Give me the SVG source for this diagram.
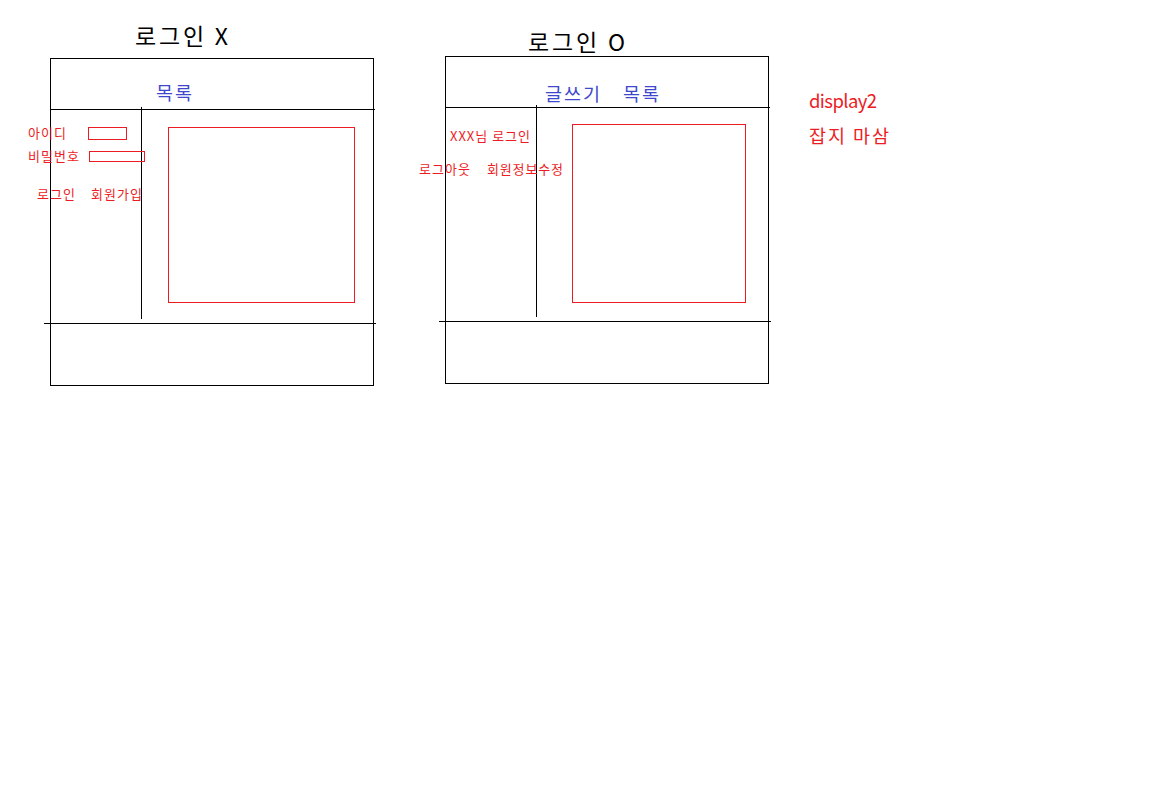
<svg xmlns="http://www.w3.org/2000/svg" width="1152" height="797" viewBox="0 0 1152 797">
<style>
.frame{fill:none;stroke:#000;stroke-width:1}
.ln{stroke:#000;stroke-width:1}
.rbox{fill:none;stroke:#ED1C24;stroke-width:1}
text{font-family:"Malgun Gothic","Noto Sans CJK KR","Noto Sans",sans-serif}
.title{font-size:23px;fill:#000}
.menu{font-size:18.5px;fill:#3F48CC}
.sm{font-size:13px;fill:#ED1C24}
.note{font-size:18.5px;fill:#ED1C24}
</style>
<rect width="1152" height="797" fill="#fff"/>
<g id="logout-view">
  <text class="title" x="135" y="44.5" textLength="93">로그인 X</text>
  <rect class="frame" x="50.5" y="58.5" width="323" height="327"/>
  <line class="ln" x1="50" y1="109.5" x2="375" y2="109.5"/>
  <line class="ln" x1="141.5" y1="107" x2="141.5" y2="319"/>
  <line class="ln" x1="44" y1="323.5" x2="376" y2="323.5"/>
  <text class="menu" x="156" y="99.5" textLength="36">목록</text>
  <rect class="rbox" x="168.5" y="127.5" width="186" height="175"/>
  <text class="sm" x="28" y="138" textLength="38">아이디</text>
  <rect class="rbox" x="88.5" y="127.5" width="38" height="12"/>
  <text class="sm" x="28" y="161" textLength="51">비밀번호</text>
  <rect class="rbox" x="89.5" y="151.5" width="55" height="10"/>
  <text class="sm" x="37" y="199" textLength="38">로그인</text>
  <text class="sm" x="91" y="199" textLength="51">회원가입</text>
</g>
<g id="login-view">
  <text class="title" x="528" y="51" textLength="97">로그인 O</text>
  <rect class="frame" x="445.5" y="56.5" width="323" height="327"/>
  <line class="ln" x1="445" y1="107.5" x2="770" y2="107.5"/>
  <line class="ln" x1="536.5" y1="105" x2="536.5" y2="317"/>
  <line class="ln" x1="439" y1="321.5" x2="771" y2="321.5"/>
  <text class="menu" x="545" y="100.5" textLength="55">글쓰기</text>
  <text class="menu" x="623" y="100.5" textLength="36">목록</text>
  <rect class="rbox" x="572.5" y="124.5" width="173" height="178"/>
  <text class="sm" x="450" y="141" textLength="80">XXX님 로그인</text>
  <text class="sm" x="419" y="174" textLength="51">로그아웃</text>
  <text class="sm" x="487" y="174" textLength="76">회원정보수정</text>
</g>
<g id="notes">
  <text class="note" x="809" y="108" textLength="68">display2</text>
  <text class="note" x="809" y="143" textLength="80">잡지 마삼</text>
</g>
<g id="connectors"/>
</svg>
